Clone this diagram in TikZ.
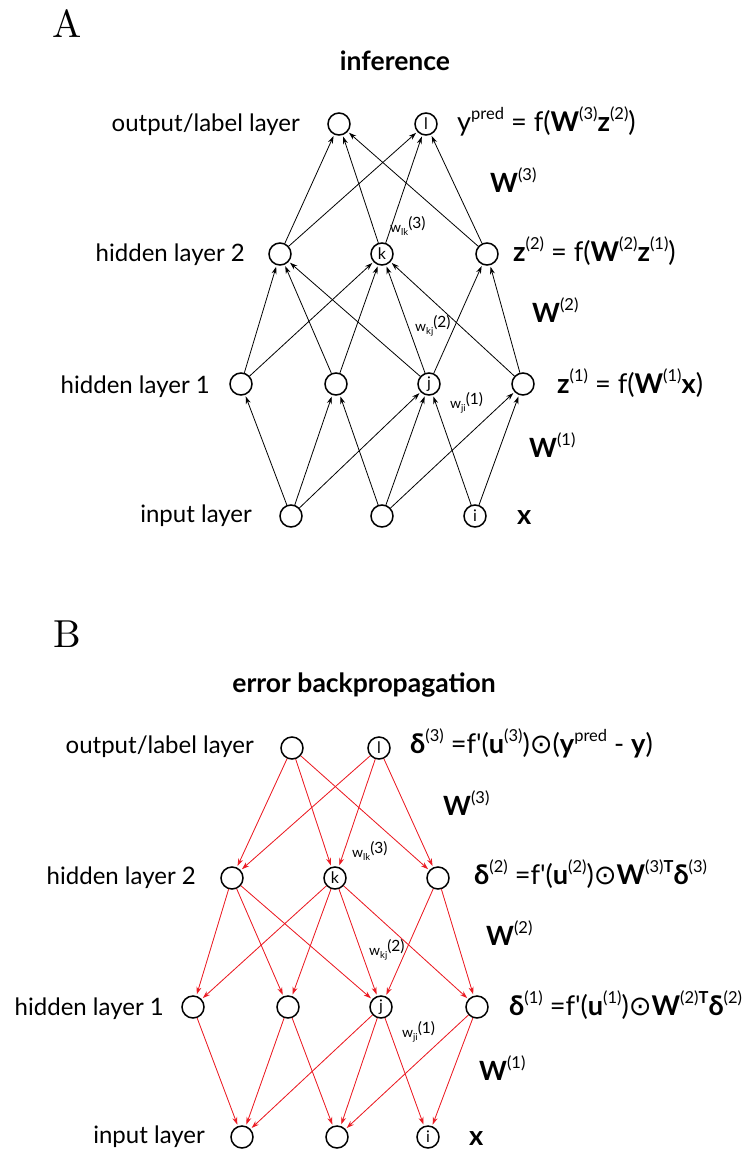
\documentclass[tikz,border=0pt]{standalone}
\usepackage{fontspec}
\usetikzlibrary{arrows.meta}
\newfontfamily\labfont{Lato}
\newfontfamily\symfont{DejaVu Sans}
\newfontfamily\panelfont{lmroman10-regular.otf}
\definecolor{backred}{RGB}{236,28,36}
% raised superscript and weight label helpers
\newcommand\sups[1]{\raisebox{0.85ex}{\fontsize{16.5}{16.5}\selectfont #1}}
\newcommand\wlab[2]{{\fontsize{14}{14}\selectfont w\raisebox{-0.45ex}{\fontsize{9.5}{9.5}\selectfont #1}\raisebox{3.4pt}{\fontsize{15.5}{15.5}\selectfont (#2)}}}
\tikzset{
  neuron/.style={circle, draw, line width=1.5pt, minimum size=22pt, inner sep=0pt,
    font=\labfont\fontsize{16}{16}\selectfont},
  lab/.style={font=\labfont\fontsize{24}{24}\selectfont, inner sep=0pt, anchor=base west},
  frm/.style={font=\labfont\fontsize{27.2}{27.2}\selectfont, inner sep=0pt, anchor=base west},
  wgt/.style={font=\labfont\fontsize{26.5}{26.5}\selectfont, inner sep=0pt, anchor=base west},
  ttl/.style={font=\labfont\bfseries\fontsize{26.5}{26.5}\selectfont, inner sep=0pt, anchor=base},
  wt/.style={font=\labfont, inner sep=0pt, anchor=base west},
  panel/.style={font=\panelfont\fontsize{39}{39}\selectfont, inner sep=0pt, anchor=base west},
  fwd/.style={-{Stealth[length=7.5pt,width=5pt]}, line width=0.8pt, shorten >=1.5pt},
  bwd/.style={fwd, draw=backred, fill=backred},
}
\begin{document}
\begin{tikzpicture}[x=1pt,y=-1pt]
\useasboundingbox[fill=white] (0,0) rectangle (745,1151);

% ---------------- panel A: inference ----------------
\node[panel] (pA) at (52,37) {A};
\node[ttl] (tA) at (395,70) {inference};

\node[neuron] (Ao1) at (339,124) {};
\node[neuron] (Ao2) at (426,124) {l};
\node[neuron] (Ah2a) at (280,254) {};
\node[neuron] (Ah2b) at (382,254) {k};
\node[neuron] (Ah2c) at (487,254) {};
\node[neuron] (Ah1a) at (241,384) {};
\node[neuron] (Ah1b) at (336,384) {};
\node[neuron] (Ah1c) at (429,384) {j};
\node[neuron] (Ah1d) at (523,384) {};
\node[neuron] (Ai1) at (291,516) {};
\node[neuron] (Ai2) at (382,516) {};
\node[neuron] (Ai3) at (475,516) {i};

\node[lab, anchor=base east] (lAo) at (300,131) {output/label layer};
\node[lab, anchor=base east] (lAh2) at (245,261) {hidden layer 2};
\node[lab, anchor=base east] (lAh1) at (210,393) {hidden layer 1};
\node[lab, anchor=base east] (lAi) at (252,522) {input layer};

\node[frm] (fAo) at (457,131) {y\sups{pred} = f(\textbf{W}\sups{(3)}\textbf{z}\sups{(2)})};
\node[frm] (fAh2) at (513,261) {\textbf{z}\sups{(2)} = f(\textbf{W}\sups{(2)}\textbf{z}\sups{(1)})};
\node[frm] (fAh1) at (557,393) {\textbf{z}\sups{(1)} = f(\textbf{W}\sups{(1)}\textbf{x})};
\node[frm] (fAi) at (517,524) {\textbf{x}};

\node[wgt] (WA3) at (490,192) {\textbf{W}\sups{(3)}};
\node[wgt] (WA2) at (532,322) {\textbf{W}\sups{(2)}};
\node[wgt] (WA1) at (529,457) {\textbf{W}\sups{(1)}};

\node[wt] (wA3) at (390,232) {\wlab{lk}{3}};
\node[wt] (wA2) at (415,331) {\wlab{kj}{2}};
\node[wt] (wA1) at (450,408) {\wlab{ji}{1}};

\foreach \s/\t in {h2a/o1, h2a/o2, h2b/o1, h2b/o2, h2c/o1, h2c/o2,
    h1a/h2a, h1a/h2b, h1b/h2a, h1b/h2b, h1c/h2a, h1c/h2b, h1c/h2c, h1d/h2b, h1d/h2c,
    i1/h1a, i1/h1b, i1/h1c, i2/h1b, i2/h1c, i2/h1d, i3/h1c, i3/h1d}
  \draw[fwd] (A\s) -- (A\t);

% ---------------- panel B: error backpropagation ----------------
\node[panel] (pB) at (53,647) {B};
\node[ttl] (tB) at (364,692) {error backpropagation};

\node[neuron] (Bo1) at (292,748) {};
\node[neuron] (Bo2) at (379,748) {l};
\node[neuron] (Bh2a) at (232,878) {};
\node[neuron] (Bh2b) at (335,878) {k};
\node[neuron] (Bh2c) at (438,878) {};
\node[neuron] (Bh1a) at (193,1007) {};
\node[neuron] (Bh1b) at (288,1007) {};
\node[neuron] (Bh1c) at (381,1007) {j};
\node[neuron] (Bh1d) at (477,1007) {};
\node[neuron] (Bi1) at (242,1137) {};
\node[neuron] (Bi2) at (337,1137) {};
\node[neuron] (Bi3) at (428,1137) {i};

\node[lab, anchor=base east] (lBo) at (254,753) {output/label layer};
\node[lab, anchor=base east] (lBh2) at (196,884) {hidden layer 2};
\node[lab, anchor=base east] (lBh1) at (164,1015) {hidden layer 1};
\node[lab, anchor=base east] (lBi) at (205,1143) {input layer};

\node[frm] (fBo) at (410,753) {\textbf{δ}\sups{(3)} =f'(\textbf{u}\sups{(3)}){\symfont ⊙}(\textbf{y}\sups{pred} - \textbf{y})};
\node[frm] (fBh2) at (474,884) {\textbf{δ}\sups{(2)} =f'(\textbf{u}\sups{(2)}){\symfont ⊙}\textbf{W}\sups{(3)\textbf{T}}\textbf{δ}\sups{(3)}};
\node[frm] (fBh1) at (509,1015) {\textbf{δ}\sups{(1)} =f'(\textbf{u}\sups{(1)}){\symfont ⊙}\textbf{W}\sups{(2)\textbf{T}}\textbf{δ}\sups{(2)}};
\node[frm] (fBi) at (469,1145) {\textbf{x}};

\node[wgt] (WB3) at (443,815) {\textbf{W}\sups{(3)}};
\node[wgt] (WB2) at (486,945) {\textbf{W}\sups{(2)}};
\node[wgt] (WB1) at (479,1080) {\textbf{W}\sups{(1)}};

\node[wt] (wB3) at (352,857) {\wlab{lk}{3}};
\node[wt] (wB2) at (369,955) {\wlab{kj}{2}};
\node[wt] (wB1) at (402,1037) {\wlab{ji}{1}};

\foreach \s/\t in {o1/h2a, o1/h2b, o1/h2c, o2/h2a, o2/h2b, o2/h2c,
    h2a/h1a, h2a/h1b, h2a/h1c, h2b/h1a, h2b/h1b, h2b/h1c, h2b/h1d, h2c/h1c, h2c/h1d,
    h1a/i1, h1b/i1, h1b/i2, h1c/i1, h1c/i2, h1c/i3, h1d/i2, h1d/i3}
  \draw[bwd] (B\s) -- (B\t);
\end{tikzpicture}
\end{document}
